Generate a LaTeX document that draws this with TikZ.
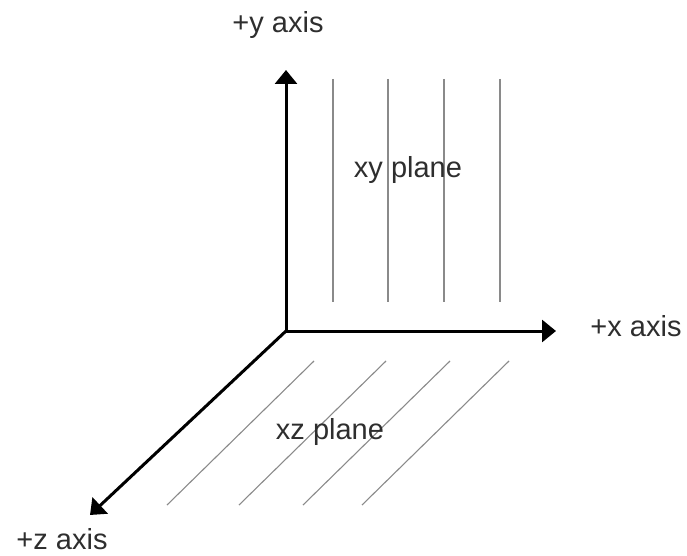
\documentclass[tikz,border=0pt]{standalone}
\usepackage{fontspec}
\setmainfont{Liberation Sans}
\usepackage{xcolor}
\usepackage{tikz}
\usetikzlibrary{arrows.meta, calc}
\definecolor{axiscol}{HTML}{000000}
\definecolor{hatchcol}{HTML}{8A8A8A}
\definecolor{labelcol}{HTML}{2E2E2E}
\tikzset{
  axis line/.style={
    -{Triangle[length=14pt, width=22pt]},
    line width=3pt,
    color=axiscol
  },
  hatch/.style={
    line width=1.1pt,
    color=hatchcol
  },
  axis label/.style={
    font=\fontsize{29}{34}\selectfont,
    text=labelcol,
    inner sep=0pt
  }
}

\begin{document}
\begin{tikzpicture}[x=1pt, y=-1pt]
  \useasboundingbox (0,0) rectangle (687,556);

  \coordinate (origin) at (286,331);
  \coordinate (ytip) at (286,70);
  \coordinate (xtip) at (556,331);
  \coordinate (ztip) at (90,515);

  % xy plane
  \foreach \px [count=\i] in {333,388,444,500} {
    \coordinate (xytop\i) at (\px,79);
    \coordinate (xybot\i) at (\px,302);
    \draw[hatch] (xytop\i) -- (xybot\i);
  }
  % xz plane
  \foreach \px [count=\i] in {314,386,450,509} {
    \coordinate (xztop\i) at (\px,361);
    \coordinate (xzbot\i) at ($(xztop\i)+(-147,144)$);
    \draw[hatch] (xztop\i) -- (xzbot\i);
  }

  \draw[axis line] (origin) -- (ytip);
  \draw[axis line] (origin) -- (xtip);
  \draw[axis line, line cap=round] (origin) -- (ztip);

  \node[axis label] (ylabel) at (278,25) {+y axis};
  \node[axis label] (xlabel) at (636,326) {+x axis};
  \node[axis label] (zlabel) at (62,539) {+z axis};
  \node[axis label] (xyname) at (408,170) {xy plane};
  \node[axis label] (xzname) at (330,432) {xz plane};
\end{tikzpicture}
\end{document}
